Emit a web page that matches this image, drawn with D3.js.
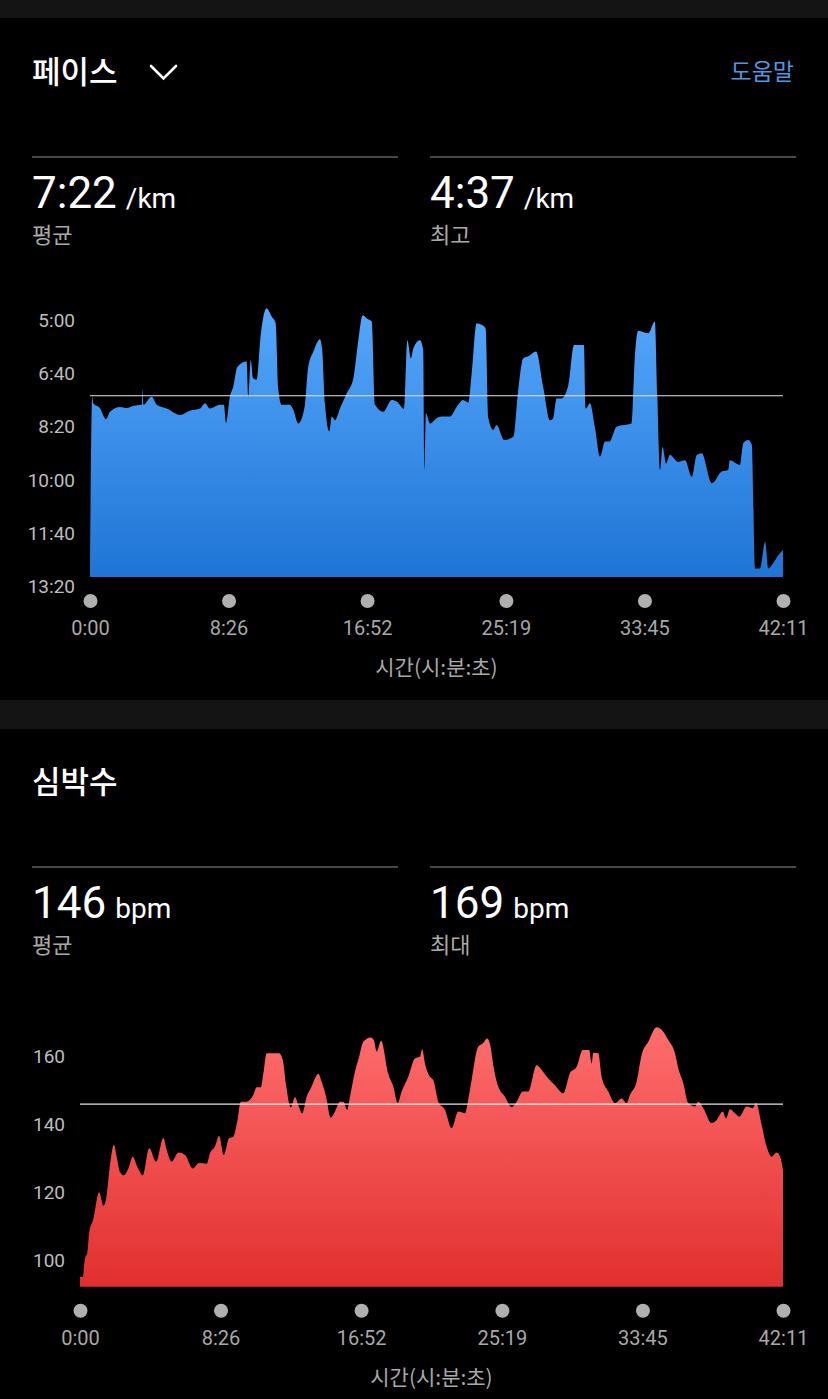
<!DOCTYPE html>
<html>
<head>
<meta charset="utf-8">
<script src="https://cdn.jsdelivr.net/npm/d3@7"></script>
<style>
html, body { margin: 0; padding: 0; background: #000; }
svg { display: block; }
.kr  { font-family: "Noto Sans CJK KR", "Noto Sans", sans-serif; }
.num { font-family: Roboto, "Noto Sans", sans-serif; }
</style>
</head>
<body>
<script>
//Time axis (seconds)
var timeTicks = [0, 506, 1012, 1519, 2025, 2531];

//Pace (seconds per km)
var paceTicks = [300, 400, 500, 600, 700, 800];
var paceT = [0, 8, 12, 36, 58, 73, 110, 134, 157, 190, 192, 195, 225, 244, 280, 329, 365, 402, 420, 438,
             475, 489, 497, 511, 523, 538, 572, 578, 587, 596, 609, 623, 645, 664, 678, 688, 700, 730, 743, 761,
             785, 797, 816, 840, 848, 858, 874, 883, 895, 913, 938, 962, 980, 996, 1011, 1029, 1041, 1071, 1102, 1120,
             1148, 1159, 1172, 1181, 1205, 1217, 1221, 1227, 1242, 1266, 1284, 1315, 1339, 1363, 1382, 1394, 1412, 1430, 1445, 1455,
             1473, 1485, 1512, 1546, 1564, 1582, 1601, 1629, 1655, 1680, 1692, 1704, 1723, 1747, 1768, 1804, 1811, 1826, 1844, 1863,
             1881, 1897, 1923, 1978, 1990, 2002, 2039, 2063, 2072, 2082, 2091, 2104, 2118, 2149, 2173, 2198, 2216, 2234, 2271, 2307,
             2331, 2337, 2374, 2386, 2404, 2417, 2429, 2447, 2466, 2477, 2495, 2514, 2531];
var paceV = [765, 444, 456, 465, 486, 472, 463, 465, 461, 459, 429, 459, 444, 459, 466, 478, 470, 466, 456, 466,
             459, 459, 493, 444, 425, 388, 378, 444, 375, 409, 412, 331, 278, 294, 306, 431, 459, 459, 469, 494,
             459, 388, 359, 336, 356, 456, 509, 481, 488, 466, 437, 409, 338, 291, 297, 303, 459, 472, 450, 453,
             467, 338, 372, 353, 338, 356, 581, 475, 494, 484, 481, 481, 463, 450, 455, 400, 306, 309, 316, 484,
             506, 497, 525, 519, 431, 372, 368, 359, 425, 488, 484, 447, 447, 422, 347, 347, 466, 456, 500, 556,
             528, 528, 500, 494, 369, 320, 325, 303, 444, 581, 538, 569, 553, 566, 563, 594, 553, 550, 606, 584,
             581, 563, 572, 531, 525, 534, 766, 766, 716, 766, 756, 741, 731];
var paceAvg = 442;   // 7:22
var paceBest = 277;  // 4:37

//Heart rate (bpm)
var hrTicks = [100, 120, 140, 160];
var hrT = [0, 10, 18, 26, 33, 48, 69, 84, 94, 108, 122, 132, 144, 158, 174, 190, 206, 226, 249, 274,
           300, 312, 330, 354, 378, 406, 429, 456, 468, 486, 501, 518, 537, 552, 566, 579, 598, 624, 636, 651,
           660, 672, 717, 730, 742, 759, 774, 786, 800, 816, 834, 846, 858, 870, 886, 903, 918, 936, 948, 962,
           972, 990, 1005, 1020, 1047, 1058, 1068, 1084, 1110, 1128, 1144, 1158, 1182, 1206, 1224, 1232, 1242, 1260, 1272, 1290,
           1314, 1338, 1362, 1386, 1404, 1434, 1450, 1466, 1478, 1488, 1506, 1530, 1554, 1572, 1594, 1614, 1644, 1662, 1686, 1710,
           1740, 1764, 1788, 1810, 1833, 1842, 1848, 1866, 1878, 1902, 1926, 1950, 1968, 1980, 2004, 2022, 2046, 2076, 2100, 2118,
           2142, 2154, 2172, 2190, 2214, 2226, 2244, 2274, 2292, 2314, 2326, 2340, 2358, 2374, 2400, 2422, 2434, 2454, 2472, 2490,
           2508, 2520, 2531];
var hrV = [95, 95, 100.5, 102, 108, 112, 120, 116, 118, 128, 134, 130.5, 126, 125, 127, 130.5, 127.6, 125, 133, 129,
           136, 132.5, 129, 131.7, 131, 127, 128.6, 128.4, 131.5, 133.5, 136.6, 131, 136, 136.4, 140.8, 146.7, 146.7, 148.7, 151, 151,
           155, 161, 161, 159, 151.6, 145, 148, 145.7, 143.3, 148.2, 151.2, 153.6, 155, 152.6, 148.2, 142, 143.8, 146.7, 146.7, 144.3,
           148.2, 155.6, 160, 164.4, 165.7, 164.9, 161.5, 164.7, 155, 151.2, 146.3, 149.7, 154.1, 159.5, 160, 162.2, 158, 154.1, 153.1, 146.7,
           144.3, 138.9, 143.8, 143.3, 150.2, 163, 163.9, 165.4, 163, 157.5, 151.2, 148.2, 145.1, 146.7, 149.7, 149.7, 157.5, 156.1, 153.6, 151.6,
           149.2, 155.1, 157, 162, 162, 158, 161.2, 161, 154.1, 149.7, 146.3, 147.7, 146.3, 148.7, 152.6, 160.5, 164.4, 168.7, 167.4, 164.9,
           161, 156.6, 152.2, 146.3, 145.3, 146.7, 144.8, 140.4, 141.3, 143.8, 141.8, 144.5, 143.3, 142.3, 145.3, 144.8, 146.3, 139.9, 133.5, 130.5,
           131.7, 130.7, 126.6];
var hrAvg = 146;
var hrMax = 169;

//m:ss
function mmss(s)
{
    var m = Math.floor(s / 60), r = Math.round(s % 60);
    return m + ":" + (r < 10 ? "0" : "") + r;
}

var svg = d3.select("body").append("svg")
    .attr("width", 828)
    .attr("height", 1399);

svg.append("rect").attr("width", 828).attr("height", 1399).attr("fill", "#000");
//grey bands between cards
svg.append("rect").attr("x", 0).attr("y", 0).attr("width", 828).attr("height", 18).attr("fill", "#141414");
svg.append("rect").attr("x", 0).attr("y", 700).attr("width", 828).attr("height", 29).attr("fill", "#141414");

var defs = svg.append("defs");

function header(g, title, stats, withMenu)
{
    g.append("text").attr("class", "kr")
        .attr("x", 32).attr("y", 83)
        .attr("font-size", 31).attr("font-weight", 500)
        .attr("fill", "#fff")
        .text(title);

    if (withMenu)
    {
        g.append("path")
            .attr("d", "M151,66 L163.5,78.5 L176,66")
            .attr("fill", "none").attr("stroke", "#fff")
            .attr("stroke-width", 2.6).attr("stroke-linecap", "round");
        g.append("text").attr("class", "kr")
            .attr("x", 794).attr("y", 80)
            .attr("text-anchor", "end")
            .attr("font-size", 23)
            .attr("fill", "#4f97e0")
            .text("도움말");
    }

    stats.forEach(function(s, i)
    {
        var x0 = i == 0 ? 32 : 430;
        g.append("line")
            .attr("x1", x0).attr("x2", x0 + 366)
            .attr("y1", 157).attr("y2", 157)
            .attr("stroke", "#474747").attr("stroke-width", 2);
        var t = g.append("text").attr("x", x0).attr("y", 208).attr("fill", "#fff");
        t.append("tspan").attr("class", "num").attr("font-size", 44).text(s.value);
        t.append("tspan").attr("class", "num").attr("font-size", 28).attr("dx", 9).text(s.unit);
        g.append("text").attr("class", "kr")
            .attr("x", x0).attr("y", 243)
            .attr("font-size", 22)
            .attr("fill", "#a9a9a9")
            .text(s.label);
    });
}

function chart(g, o)
{
    var x = d3.scaleLinear().domain([0, 2531]).range([o.left, 783]);
    var y = d3.scaleLinear().domain(o.yDomain).range(o.yRange);
    var data = o.t.map(function(t, i) { return {t: t, v: o.v[i]}; });

    //gradient in the card's own coordinates
    var grad = defs.append("linearGradient")
        .attr("id", o.id)
        .attr("gradientUnits", "userSpaceOnUse")
        .attr("x1", 0).attr("x2", 0)
        .attr("y1", o.gradTop).attr("y2", o.bottom);
    grad.append("stop").attr("offset", "0%").attr("stop-color", o.colors[0]);
    grad.append("stop").attr("offset", "100%").attr("stop-color", o.colors[1]);

    var area = d3.area()
        .curve(d3.curveMonotoneX)
        .x(function(d) { return x(d.t); })
        .y0(o.bottom)
        .y1(function(d) { return y(d.v); });

    g.append("path").datum(data)
        .attr("d", area)
        .attr("fill", "url(#" + o.id + ")");

    //average line
    g.append("line")
        .attr("x1", x.range()[0]).attr("x2", x.range()[1])
        .attr("y1", y(o.avg)).attr("y2", y(o.avg))
        .attr("stroke", "#e6e6e6").attr("stroke-width", 1.2);

    //y axis
    var ya = g.append("g")
        .attr("transform", "translate(" + o.left + ",0)")
        .call(d3.axisLeft(y).tickValues(o.ticks).tickSize(0).tickPadding(15).tickFormat(o.fmt));
    ya.select(".domain").remove();
    ya.selectAll("text")
        .attr("class", "num")
        .attr("font-size", 19)
        .attr("fill", "#bdbdbd");

    //time axis with dots
    var xa = g.append("g")
        .attr("transform", "translate(0," + o.bottom + ")")
        .call(d3.axisBottom(x).tickValues(timeTicks).tickSize(0).tickFormat(mmss));
    xa.select(".domain").remove();
    xa.selectAll(".tick").append("circle")
        .attr("cy", 24).attr("r", 7)
        .attr("fill", "#b0b0b0");
    xa.selectAll("text")
        .attr("class", "num")
        .attr("y", 44)
        .attr("font-size", 20)
        .attr("fill", "#a8a8a8");

    g.append("text").attr("class", "kr")
        .attr("x", (x.range()[0] + x.range()[1]) / 2)
        .attr("y", o.bottom + 98)
        .attr("text-anchor", "middle")
        .attr("font-size", 21)
        .attr("fill", "#a8a8a8")
        .text("시간(시:분:초)");
}

//Pace card
var g1 = svg.append("g");
header(g1, "페이스",
       [{value: mmss(paceAvg), unit: "/km", label: "평균"},
        {value: mmss(paceBest), unit: "/km", label: "최고"}], true);
chart(g1, {id: "gPace", left: 90, t: paceT, v: paceV,
           yDomain: [300, 800], yRange: [320, 586.7], bottom: 577, gradTop: 305,
           ticks: paceTicks, fmt: mmss, avg: paceAvg,
           colors: ["#56a7fb", "#1f75d6"]});

//Heart rate card
var g2 = svg.append("g").attr("transform", "translate(0,710)");
header(g2, "심박수",
       [{value: hrAvg, unit: "bpm", label: "평균"},
        {value: hrMax, unit: "bpm", label: "최대"}], false);
chart(g2, {id: "gHr", left: 80, t: hrT, v: hrV,
           yDomain: [100, 160], yRange: [550, 346.7], bottom: 576.7, gradTop: 315,
           ticks: hrTicks, fmt: d3.format("d"), avg: hrAvg,
           colors: ["#ff6e6e", "#e22f2f"]});
</script>
</body>
</html>
